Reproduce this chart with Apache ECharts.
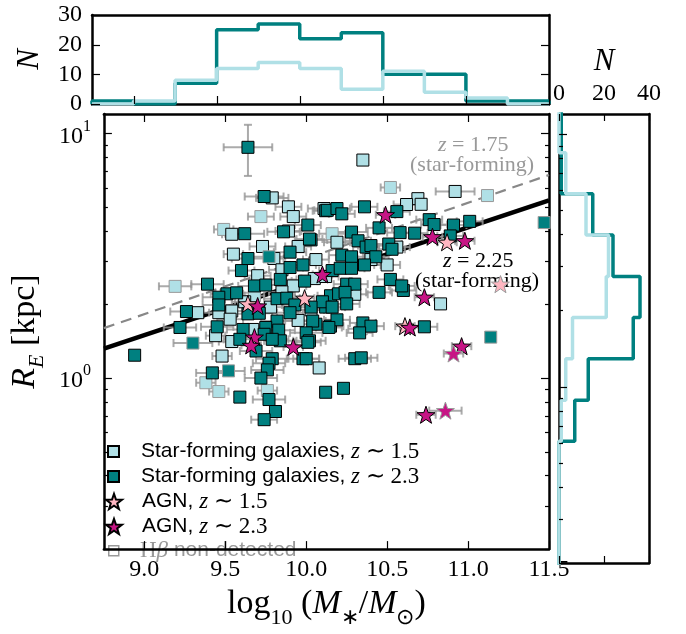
<!DOCTYPE html>
<html><head><meta charset="utf-8">
<script src="https://cdn.jsdelivr.net/npm/echarts@6/dist/echarts.min.js"></script>
<style>html,body{margin:0;padding:0;background:#fff}#c{width:686px;height:634px}</style>
</head><body><div id="c"></div>
<script>
// ---------------- data ----------------
const massRange = [8.75, 11.5];
const radiusRange = [0.2, 12];
const massTicks = [9.0, 9.5, 10.0, 10.5, 11.0, 11.5];
const radiusMajorTicks = [1, 10];
const radiusMinorTicks = [0.2,0.3,0.4,0.5,0.6,0.7,0.8,0.9,2,3,4,5,6,7,8,9];
const countRangeTop = [0, 30];
const countTicksTop = [0, 10, 20, 30];
const countRangeRight = [0, 40];
const countTicksRight = [0, 20, 40];

const massBinEdges = [8.75,9.0,9.25,9.5,9.75,10.0,10.25,10.5,10.75,11.0,11.25,11.5];
const massHistZ23 = [1,0,7,25,27,22,24,10,10,1,1];
const massHistZ15 = [0,1,8,12,14,12,5,11,4,2,0];
const radiusBinEdgesLog = [-0.707,-0.544,-0.380,-0.217,-0.054,0.110,0.273,0.436,0.600,0.763,0.926,1.089];
const radiusHistZ23 = [0,0,0,7,13,33,36,24,15,1,1];
const radiusHistZ15 = [0,0,0,1,3,6,21,22,12,3,0];

// [log10 M*, R_E (kpc), mass error, Hbeta non-detected flag]
const sfZ15 = [
[9.79,5.45,0.10,0],[9.89,5.01,0.08,0],[9.72,4.57,0.08,1],[9.92,4.57,0.08,0],[10.11,4.93,0.10,0],
[9.49,4.05,0.06,1],[9.54,3.87,0.06,0],[9.89,3.99,0.08,0],[9.55,3.21,0.06,0],[9.80,3.08,0.06,0],
[9.85,2.77,0.08,0],[9.92,2.38,0.08,0],[9.19,2.37,0.10,1],[9.68,2.17,0.06,1],[9.54,1.88,0.08,0],
[9.46,1.85,0.06,0],[9.33,1.85,0.10,0],[10.03,1.90,0.08,0],[9.53,1.74,0.08,0],[10.35,7.78,0.00,0],
[10.52,6.01,0.06,1],[10.92,5.79,0.12,0],[11.12,5.57,0.00,1],[10.69,5.41,0.00,0],[10.71,5.13,0.00,0],
[10.62,5.12,0.08,0],[10.16,3.89,0.08,1],[10.19,3.59,0.08,0],[10.56,3.43,0.08,0],[10.50,2.90,0.08,0],
[10.83,2.01,0.00,0],[9.44,1.49,0.06,0],[9.54,1.41,0.08,0],[9.67,1.58,0.06,0],[9.48,1.23,0.06,0],
[9.38,0.957,0.06,1],[9.46,0.881,0.06,1],[9.76,0.889,0.06,1],[10.08,1.10,0.00,0],[10.34,1.59,0.08,1],
[9.73,3.45,0.08,0],[9.95,3.45,0.08,0],[10.06,3.05,0.08,0],[9.70,2.62,0.08,0],[10.05,2.55,0.08,0],
[9.62,2.05,0.08,0],[10.12,2.60,0.08,0],[9.85,2.25,0.08,0],[9.78,1.95,0.08,0],[10.30,2.20,0.08,0],
[9.95,1.72,0.08,0],[10.40,3.05,0.08,0]
];
const sfZ23 = [
[9.64,8.77,0.15,0],[9.74,5.52,0.12,0],[10.12,4.83,0.08,0],[10.01,4.22,0.08,0],[9.62,3.89,0.12,0],
[9.86,3.96,0.10,0],[10.03,3.67,0.10,0],[9.64,3.08,0.10,0],[9.77,3.13,0.10,1],[9.90,3.27,0.10,0],
[9.60,2.75,0.08,0],[9.90,2.83,0.08,0],[9.98,2.90,0.08,0],[9.84,2.53,0.10,0],[9.99,2.49,0.08,0],
[9.39,2.42,0.10,0],[9.68,2.38,0.10,0],[9.75,2.40,0.10,0],[9.51,2.21,0.10,0],[9.57,2.23,0.10,0],
[9.46,2.14,0.10,0],[9.82,2.11,0.08,0],[9.88,2.12,0.08,0],[9.46,1.99,0.10,0],[9.64,1.83,0.10,0],
[9.71,1.84,0.08,0],[9.26,1.87,0.10,0],[9.93,1.99,0.08,0],[9.90,1.85,0.08,0],[9.82,1.71,0.10,0],
[9.22,1.61,0.10,0],[9.45,1.62,0.10,0],[9.61,1.58,0.10,0],[9.75,1.61,0.10,0],[10.06,1.66,0.08,0],
[10.36,5.01,0.08,0],[10.13,4.85,0.08,0],[10.19,4.93,0.08,0],[10.22,4.69,0.08,0],[10.56,4.79,0.08,0],
[10.45,4.11,0.08,0],[10.76,4.44,0.08,0],[10.79,4.24,0.08,0],[10.91,4.22,0.08,0],[11.01,4.37,0.08,0],
[11.47,4.32,0.00,1],[10.89,3.81,0.08,0],[10.58,3.93,0.08,0],[10.67,3.91,0.08,0],[10.28,3.95,0.10,0],
[10.32,3.64,0.08,0],[10.37,3.43,0.08,0],[10.40,3.48,0.08,0],[10.43,3.13,0.08,0],[10.51,3.53,0.08,0],
[10.53,3.36,0.08,0],[10.02,3.70,0.08,0],[10.22,3.18,0.08,0],[10.28,3.13,0.08,0],[10.36,2.90,0.10,0],
[10.16,2.75,0.08,0],[10.21,2.81,0.08,0],[10.28,2.81,0.08,0],[10.52,2.53,0.08,0],[10.60,2.28,0.08,0],
[10.59,2.38,0.08,0],[10.25,2.42,0.08,0],[10.30,2.42,0.08,0],[10.45,2.24,0.08,0],[10.15,2.17,0.08,0],
[10.20,2.21,0.08,0],[10.24,2.24,0.08,0],[10.12,1.95,0.08,0],[10.10,2.05,0.08,0],[10.25,2.01,0.08,0],
[10.04,1.71,0.08,0],[10.15,1.63,0.08,0],[10.19,1.73,0.08,0],[10.35,1.68,0.08,0],[10.40,1.63,0.08,0],
[10.73,1.62,0.08,0],[8.94,1.24,0.00,0],[9.30,1.39,0.12,1],[9.59,1.44,0.10,0],[9.83,1.57,0.10,0],
[9.74,1.51,0.10,0],[9.69,1.29,0.10,0],[9.84,1.42,0.10,0],[9.79,1.44,0.10,0],[10.00,1.53,0.10,0],
[10.02,1.42,0.10,0],[9.98,1.20,0.10,0],[9.79,1.20,0.10,0],[9.77,1.15,0.10,0],[9.76,1.08,0.10,0],
[9.42,1.05,0.10,0],[9.52,1.07,0.10,1],[9.72,1.00,0.10,0],[9.59,0.836,0.00,0],[9.77,0.817,0.10,0],
[9.81,0.730,0.00,0],[9.74,0.676,0.08,0],[10.12,0.875,0.00,0],[10.23,0.908,0.00,0],[10.03,1.95,0.08,0],
[10.16,1.95,0.08,0],[10.14,1.61,0.08,0],[10.33,1.53,0.08,0],[10.01,1.40,0.08,0],[10.00,1.20,0.08,0],
[10.30,1.20,0.10,0],[10.34,1.21,0.10,0],[11.14,1.47,0.00,1]
];
// radius error bar (kpc) of the isolated point sfZ23[0]: [low, high]
const outlierRadiusErr = [6.70, 10.84];
const agnZ15 = [
[9.64,2.01,0.06,0],[9.99,2.12,0.06,0],[10.87,3.59,0.06,0],[11.20,2.42,0.00,1],[10.61,1.63,0.06,0]
];
const agnZ23 = [
[9.70,1.97,0.06,0],[10.10,2.65,0.06,0],[10.49,4.65,0.06,0],[10.78,3.78,0.06,0],[10.98,3.64,0.06,0],
[10.73,2.14,0.06,0],[10.64,1.61,0.06,0],[9.68,1.47,0.06,0],[9.66,1.36,0.06,0],[9.92,1.34,0.06,0],
[10.96,1.35,0.06,0],[10.91,1.26,0.06,1],[10.74,0.708,0.06,0],[10.86,0.736,0.10,1]
];
const fitMass = [8.75, 11.5];
const fitZ225 = [1.32, 5.32];
const fitZ175 = [1.60, 6.76];

// ---------------- styling ----------------
const SERIF = 'Liberation Serif';
const SANS = 'Liberation Sans';
const TEAL = '#008080', POWDER = '#b0e0e6', MAGENTA = '#c71585', PINK = '#ffb6c1';
const ND = '#999999';
const STAR = 'path://M0,-10L2.35,-3.24L9.51,-3.09L3.8,1.24L5.88,8.09L0,4L-5.88,8.09L-3.8,1.24L-9.51,-3.09L-2.35,-3.24Z';
const L = Math.log10;
const rMin = L(radiusRange[0]), rMax = L(radiusRange[1]);

const chart = echarts.init(document.getElementById('c'));

function lineOn(){ return {show:true, onZero:false, lineStyle:{color:'#000', width:2.5}}; }
function labelStyle(extra){ return Object.assign({fontFamily:SERIF, fontSize:24, color:'#000'}, extra||{}); }

function stepTop(edges, counts){
  const d=[[edges[0],0]];
  counts.forEach((c,i)=>{ d.push([edges[i],c]); d.push([edges[i+1],c]); });
  d.push([edges[edges.length-1],0]);
  return d;
}
function stepRight(edges, counts){
  const d=[[0,edges[0]]];
  counts.forEach((c,i)=>{ d.push([c,edges[i]]); d.push([c,edges[i+1]]); });
  d.push([0,edges[edges.length-1]]);
  return d;
}
function pts(arr){
  return arr.map(p=>{
    const o={value:[p[0], L(p[1])]};
    if(p[3]) o.itemStyle={borderColor:ND};
    return o;
  });
}
function errData(arr, withOutlier){
  return arr.map((p,i)=>{
    let lo=0, hi=0;
    if(withOutlier && i===0){ lo=L(outlierRadiusErr[0]); hi=L(outlierRadiusErr[1]); }
    return [p[0], L(p[1]), p[2], lo, hi];
  });
}
const errRender = function(params, api){
  const x=api.value(0), y=api.value(1), xe=api.value(2), lo=api.value(3), hi=api.value(4);
  const style={stroke:'rgba(150,150,150,0.8)', lineWidth:2};
  const ch=[];
  if(xe>0){
    const a=api.coord([x-xe,y]), b=api.coord([x+xe,y]);
    ch.push({type:'line',shape:{x1:a[0],y1:a[1],x2:b[0],y2:b[1]},style});
    ch.push({type:'line',shape:{x1:a[0],y1:a[1]-4,x2:a[0],y2:a[1]+4},style});
    ch.push({type:'line',shape:{x1:b[0],y1:b[1]-4,x2:b[0],y2:b[1]+4},style});
  }
  if(hi!==0 || lo!==0){
    const a=api.coord([x,lo]), b=api.coord([x,hi]);
    ch.push({type:'line',shape:{x1:a[0],y1:a[1],x2:b[0],y2:b[1]},style});
    ch.push({type:'line',shape:{x1:a[0]-4,y1:a[1],x2:a[0]+4,y2:a[1]},style});
    ch.push({type:'line',shape:{x1:b[0]-4,y1:b[1],x2:b[0]+4,y2:b[1]},style});
  }
  return {type:'group', children:ch};
};
function errSeries(arr, withOutlier){
  return {type:'custom', xAxisIndex:2, yAxisIndex:2, z:2, silent:true, clip:true,
    encode:{x:0,y:1}, data:errData(arr, withOutlier), renderItem:errRender};
}

// tick marks drawn inward on the frame, placed through the axes' own scales
// item: [x, y, length, sides]  sides bit 1 = bottom/left, bit 2 = top/right
const tickStyle = {stroke:'#000', lineWidth:1.2};
function renderXTicks(params, api){
  const cs=params.coordSys;
  const x=Math.round(api.coord([api.value(0), api.value(1)])[0])+0.5, len=api.value(2), s=api.value(3);
  const ch=[];
  if(s & 1) ch.push({type:'line', shape:{x1:x,y1:cs.y+cs.height,x2:x,y2:cs.y+cs.height-len}, style:tickStyle});
  if(s & 2) ch.push({type:'line', shape:{x1:x,y1:cs.y,x2:x,y2:cs.y+len}, style:tickStyle});
  return {type:'group', children:ch};
}
function renderYTicks(params, api){
  const cs=params.coordSys;
  const y=Math.round(api.coord([api.value(0), api.value(1)])[1])+0.5, len=api.value(2), s=api.value(3);
  const ch=[];
  if(s & 1) ch.push({type:'line', shape:{x1:cs.x,y1:y,x2:cs.x+len,y2:y}, style:tickStyle});
  if(s & 2) ch.push({type:'line', shape:{x1:cs.x+cs.width-len,y1:y,x2:cs.x+cs.width,y2:y}, style:tickStyle});
  return {type:'group', children:ch};
}
function tickSeries(xi, yi, data, render){
  return {type:'custom', xAxisIndex:xi, yAxisIndex:yi, silent:true, clip:false, z:9,
    encode:{x:0,y:1}, data, renderItem:render};
}

function logAxis(grid, pos, withLabel){
  const ax = {type:'value', gridIndex:grid, position:pos, min:rMin, max:rMax,
    axisLine:lineOn(), splitLine:{show:false}, axisTick:{show:false}, axisLabel:{show:false}};
  if(withLabel){
    ax.axisLabel = {show:true, customValues: radiusMajorTicks.map(L), margin:13, align:'right',
      formatter: v => '{b|10}{s|' + Math.round(v) + '}',
      rich:{b:{fontFamily:SERIF,fontSize:24,color:'#000',lineHeight:30,verticalAlign:'bottom',align:'right'},
            s:{fontFamily:SERIF,fontSize:16,color:'#000',lineHeight:30,verticalAlign:'top',align:'right'}}};
    ax.name = '{i|R}{sb|E}{r| [kpc]}';
    ax.nameLocation = 'middle';
    ax.nameGap = 45;
    ax.nameTextStyle = {rich:{
      i:{fontFamily:SERIF,fontStyle:'italic',fontSize:34,color:'#000',lineHeight:40,verticalAlign:'top'},
      sb:{fontFamily:SERIF,fontStyle:'italic',fontSize:22,color:'#000',lineHeight:40,verticalAlign:'bottom'},
      r:{fontFamily:SERIF,fontSize:34,color:'#000',lineHeight:40,verticalAlign:'top'}}};
  }
  return ax;
}
function massAxis(extra){ return Object.assign({type:'value', min:massRange[0], max:massRange[1],
  axisLine:lineOn(), splitLine:{show:false}, axisTick:{show:false}, axisLabel:{show:false}}, extra); }
function countAxis(extra){ return Object.assign({type:'value', axisLine:lineOn(), splitLine:{show:false},
  axisTick:{show:false}, axisLabel:{show:false}}, extra); }

const option = {
  animation:false,
  grid:[
    {left:92, top:15, width:457, height:89},
    {left:92, top:114, width:457, height:449},
    {left:559, top:114, width:90, height:449}
  ],
  xAxis:[
    massAxis({gridIndex:0, position:'bottom'}),
    massAxis({gridIndex:0, position:'top'}),
    massAxis({gridIndex:1, position:'bottom',
      axisLabel:labelStyle({show:true, customValues:massTicks, margin:9, formatter:v=>v.toFixed(1)}),
      name:'{r|log}{sb|10}{r| (}{i|M}{sb|∗}{r|/}{i|M}{sb|⊙}{r|)}', nameLocation:'middle', nameGap:33,
      nameTextStyle:{rich:{
        r:{fontFamily:SERIF,fontSize:34,color:'#000',lineHeight:42,verticalAlign:'top'},
        i:{fontFamily:SERIF,fontStyle:'italic',fontSize:34,color:'#000',lineHeight:42,verticalAlign:'top'},
        sb:{fontFamily:SERIF,fontSize:22,color:'#000',lineHeight:42,verticalAlign:'bottom'}}}}),
    massAxis({gridIndex:1, position:'top'}),
    countAxis({gridIndex:2, position:'top', min:countRangeRight[0], max:countRangeRight[1], interval:20,
      axisLabel:labelStyle({show:true, margin:8, showMinLabel:true, showMaxLabel:true}),
      name:'N', nameLocation:'middle', nameGap:33,
      nameTextStyle:{fontFamily:SERIF, fontStyle:'italic', fontSize:31, color:'#000'}}),
    countAxis({gridIndex:2, position:'bottom', min:countRangeRight[0], max:countRangeRight[1], interval:20})
  ],
  yAxis:[
    countAxis({gridIndex:0, position:'left', min:countRangeTop[0], max:countRangeTop[1], interval:10,
      axisLabel:labelStyle({show:true, margin:10}),
      name:'N', nameLocation:'middle', nameGap:47,
      nameTextStyle:{fontFamily:SERIF, fontStyle:'italic', fontSize:31, color:'#000'}}),
    countAxis({gridIndex:0, position:'right', min:countRangeTop[0], max:countRangeTop[1], interval:10}),
    logAxis(1,'left',true),
    logAxis(1,'right',false),
    logAxis(2,'left',false),
    logAxis(2,'right',false)
  ],
  legend:[
    {data:[{name:'sfZ15'}], left:107, top:440, itemWidth:11, itemHeight:11},
    {data:[{name:'sfZ23'}], left:107, top:465, itemWidth:11, itemHeight:11},
    {data:[{name:'agnZ15'}], left:105, top:490, itemWidth:16, itemHeight:16},
    {data:[{name:'agnZ23'}], left:105, top:515, itemWidth:16, itemHeight:16}
  ].map(lg=>Object.assign(lg,{
    orient:'vertical', selectedMode:false, padding:0, itemGap:0,
    formatter: n => ({
      sfZ15:'{sp|}{t|Star-forming galaxies, }{m|z}{n| ∼ 1.5}',
      sfZ23:'{sp|}{t|Star-forming galaxies, }{m|z}{n| ∼ 2.3}',
      agnZ15:'{sp2|}{t|AGN, }{m|z}{n| ∼ 1.5}',
      agnZ23:'{sp2|}{t|AGN, }{m|z}{n| ∼ 2.3}'
    })[n],
    textStyle:{lineHeight:22, rich:{
      sp:{width:17}, sp2:{width:15},
      t:{fontFamily:SANS,fontSize:21,color:'#000',lineHeight:22},
      m:{fontFamily:SERIF,fontStyle:'italic',fontSize:23,color:'#000',lineHeight:22},
      n:{fontFamily:SERIF,fontSize:23,color:'#000',lineHeight:22}}}
  })),
  graphic:[
    {type:'rect', left:108, top:545, shape:{width:10, height:10}, style:{fill:'#fff', stroke:ND, lineWidth:1.5}},
    {type:'text', left:140, top:539, style:{rich:{
      h:{fontFamily:SERIF,fontSize:23,fill:'#999'},
      hb:{fontFamily:SERIF,fontStyle:'italic',fontSize:23,fill:'#999'},
      g:{fontFamily:SANS,fontSize:21,fill:'#999'}}, text:'{h|H}{hb|β}{g| non-detected}'}},
    {type:'text', left:438, top:134, style:{rich:{m:{fontFamily:SERIF,fontStyle:'italic',fontSize:22,fill:'#999'},n:{fontFamily:SERIF,fontSize:22,fill:'#999'}}, text:'{m|z}{n| = 1.75}'}},
    {type:'text', left:410, top:154, style:{fontFamily:SERIF,fontSize:22,fill:'#999',text:'(star-forming)'}},
    {type:'text', left:443, top:250, style:{rich:{m:{fontFamily:SERIF,fontStyle:'italic',fontSize:22,fill:'#000'},n:{fontFamily:SERIF,fontSize:22,fill:'#000'}}, text:'{m|z}{n| = 2.25}'}},
    {type:'text', left:415, top:270, style:{fontFamily:SERIF,fontSize:22,fill:'#000',text:'(star-forming)'}}
  ],
  series:[
    {type:'line', xAxisIndex:0, yAxisIndex:0, data:stepTop(massBinEdges, massHistZ23), symbol:'none', silent:true,
      lineStyle:{color:TEAL, width:3.5}, z:3},
    {type:'line', xAxisIndex:0, yAxisIndex:0, data:stepTop(massBinEdges, massHistZ15), symbol:'none', silent:true,
      lineStyle:{color:POWDER, width:3.5}, z:4},
    {type:'line', xAxisIndex:4, yAxisIndex:4, data:stepRight(radiusBinEdgesLog, radiusHistZ23), symbol:'none', silent:true,
      lineStyle:{color:TEAL, width:3.5}, z:3},
    {type:'line', xAxisIndex:4, yAxisIndex:4, data:stepRight(radiusBinEdgesLog, radiusHistZ15), symbol:'none', silent:true,
      lineStyle:{color:POWDER, width:3.5}, z:4},
    {type:'line', xAxisIndex:2, yAxisIndex:2, data:fitMass.map((m,i)=>[m, L(fitZ175[i])]), symbol:'none', silent:true,
      lineStyle:{color:'#888', width:2.2, type:[11,7]}, z:1},
    {type:'line', xAxisIndex:2, yAxisIndex:2, data:fitMass.map((m,i)=>[m, L(fitZ225[i])]), symbol:'none', silent:true,
      lineStyle:{color:'#000', width:4.5}, z:1},
    errSeries(sfZ15,false), errSeries(sfZ23,true), errSeries(agnZ15,false), errSeries(agnZ23,false),
    {name:'sfZ15', type:'scatter', xAxisIndex:2, yAxisIndex:2, symbol:'rect', symbolSize:12, data:pts(sfZ15),
      itemStyle:{color:POWDER, borderColor:'#000', borderWidth:1, opacity:1}, z:5},
    {name:'sfZ23', type:'scatter', xAxisIndex:2, yAxisIndex:2, symbol:'rect', symbolSize:12, data:pts(sfZ23),
      itemStyle:{color:TEAL, borderColor:'#000', borderWidth:1, opacity:1}, z:6},
    {name:'agnZ15', type:'scatter', xAxisIndex:2, yAxisIndex:2, symbol:STAR, symbolSize:18, symbolKeepAspect:true, data:pts(agnZ15),
      itemStyle:{color:PINK, borderColor:'#000', borderWidth:1, opacity:1}, z:7},
    {name:'agnZ23', type:'scatter', xAxisIndex:2, yAxisIndex:2, symbol:STAR, symbolSize:18, symbolKeepAspect:true, data:pts(agnZ23),
      itemStyle:{color:MAGENTA, borderColor:'#000', borderWidth:1, opacity:1}, z:8},
    // frame ticks
    tickSeries(0, 0, massTicks.map(v=>[v, countRangeTop[0], 8, 1]), renderXTicks),
    tickSeries(0, 0, countTicksTop.map(v=>[massRange[0], v, 8, 3]), renderYTicks),
    tickSeries(2, 2, massTicks.map(v=>[v, rMin, 8, 3]), renderXTicks),
    tickSeries(2, 2, radiusMajorTicks.map(v=>[massRange[0], L(v), 8, 3]), renderYTicks),
    tickSeries(2, 2, radiusMinorTicks.map(v=>[massRange[0], L(v), 4, 3]), renderYTicks),
    tickSeries(4, 4, countTicksRight.map(v=>[v, rMin, 7, 3]), renderXTicks),
    tickSeries(4, 4, radiusMajorTicks.map(v=>[countRangeRight[0], L(v), 8, 1]), renderYTicks),
    tickSeries(4, 4, radiusMinorTicks.map(v=>[countRangeRight[0], L(v), 4, 1]), renderYTicks)
  ]
};
chart.setOption(option);
</script>
</body></html>
